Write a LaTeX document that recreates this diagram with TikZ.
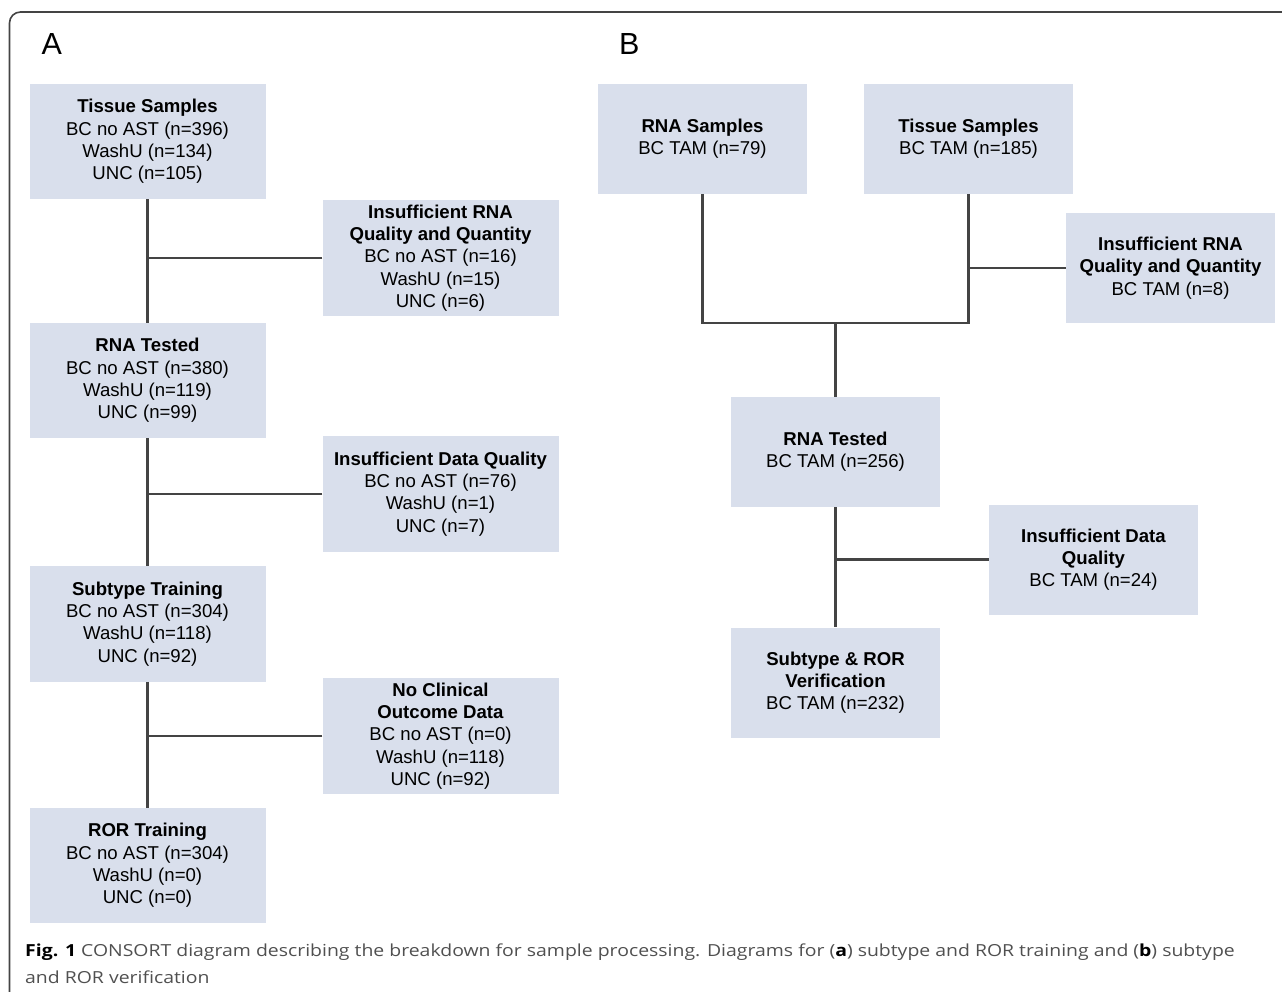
\documentclass[tikz,border=0pt]{standalone}
\usepackage{fontspec}
\usepackage{xcolor}
\setmainfont{Liberation Sans}
\newfontfamily\capfont[FakeStretch=1.17]{Open Sans}
\definecolor{boxfill}{HTML}{D9DFEC}
\definecolor{linegray}{HTML}{444444}
\definecolor{capgray}{HTML}{505050}

\begin{document}
\begin{tikzpicture}[x=1pt,y=-1pt,
  flowbox/.style={fill=boxfill, inner sep=0pt, align=center,
    font=\fontsize{18.6}{22.3}\selectfont},
  boxA/.style={flowbox, minimum width=236pt, minimum height=115.5pt},
  boxB/.style={flowbox, minimum width=209pt, minimum height=110pt},
  link/.style={linegray, line width=2.2pt},
  panel/.style={anchor=base west, inner sep=0pt, font=\fontsize{30.5}{36}\selectfont}]
\useasboundingbox (0,0) rectangle (1282,992);
\draw[linegray, line width=1.6pt, rounded corners=11pt] (9.5,1000) |- (1290,12);

\node[panel] (panelA) at (41.5,55) {A};
\node[panel] (panelB) at (619,55) {B};

% panel A
\node[boxA] (tissA) at (147.5,141.5) {\textbf{Tissue Samples}\\BC no AST (n=396)\\WashU (n=134)\\UNC (n=105)};
\node[boxA] (rnaA) at (147.5,380.5) {\textbf{RNA Tested}\\BC no AST (n=380)\\WashU (n=119)\\UNC (n=99)};
\node[boxA] (subA) at (147.5,624) {\textbf{Subtype Training}\\BC no AST (n=304)\\WashU (n=118)\\UNC (n=92)};
\node[boxA] (rorA) at (147.5,865.5) {\textbf{ROR Training}\\BC no AST (n=304)\\WashU (n=0)\\UNC (n=0)};
\node[boxA] (lossrnaA) at (440.5,258) {\textbf{Insufficient RNA}\\\textbf{Quality and Quantity}\\BC no AST (n=16)\\WashU (n=15)\\UNC (n=6)};
\node[boxA] (lossdataA) at (440.5,494) {\textbf{Insufficient Data Quality}\\BC no AST (n=76)\\WashU (n=1)\\UNC (n=7)};
\node[boxA] (lossclinA) at (440.5,736) {\textbf{No Clinical}\\\textbf{Outcome Data}\\BC no AST (n=0)\\WashU (n=118)\\UNC (n=92)};

\draw[link] (tissA.south) -- (rnaA.north);
\draw[link] (rnaA.south) -- (subA.north);
\draw[link] (subA.south) -- (rorA.north);
\draw[link] (lossrnaA.west) -- (lossrnaA.west -| tissA.south);
\draw[link] (lossdataA.west) -- (lossdataA.west -| rnaA.south);
\draw[link] (lossclinA.west) -- (lossclinA.west -| subA.south);

% panel B
\node[boxB] (rnasampB) at (702.5,139) {\textbf{RNA Samples}\\BC TAM (n=79)};
\node[boxB] (tissB) at (968.5,139) {\textbf{Tissue Samples}\\BC TAM (n=185)};
\node[boxB] (lossrnaB) at (1170.5,268) {\textbf{Insufficient RNA}\\\textbf{Quality and Quantity}\\BC TAM (n=8)};
\node[boxB] (rnaB) at (835.5,452) {\textbf{RNA Tested}\\BC TAM (n=256)};
\node[boxB] (lossdataB) at (1093.5,559.5) {\textbf{Insufficient Data}\\\textbf{Quality}\\BC TAM (n=24)};
\node[boxB] (verB) at (835.5,682.5) {\textbf{Subtype \& ROR}\\\textbf{Verification}\\BC TAM (n=232)};
\coordinate (joinB) at (835.5,323);

\draw[link] (rnasampB.south) |- (joinB) -| (tissB.south);
\draw[link] (joinB) -- (rnaB.north);
\draw[link] (rnaB.south) -- (verB.north);
\draw[link] (lossrnaB.west) -- (lossrnaB.west -| tissB.south);
\draw[link] (lossdataB.west) -- (lossdataB.west -| rnaB.south);

% caption
\node[anchor=base west, inner sep=0pt, capgray, font=\capfont\fontsize{16.6}{27}\selectfont] (cap1) at (25,956)
  {{\color{black}\bfseries Fig. 1} CONSORT diagram describing the breakdown for sample processing. Diagrams for ({\color{black}\bfseries a}) subtype and ROR training and ({\color{black}\bfseries b}) subtype};
\node[anchor=base west, inner sep=0pt, capgray, font=\capfont\fontsize{16.6}{27}\selectfont] (cap2) at (25,983)
  {and ROR verification};
\end{tikzpicture}
\end{document}
